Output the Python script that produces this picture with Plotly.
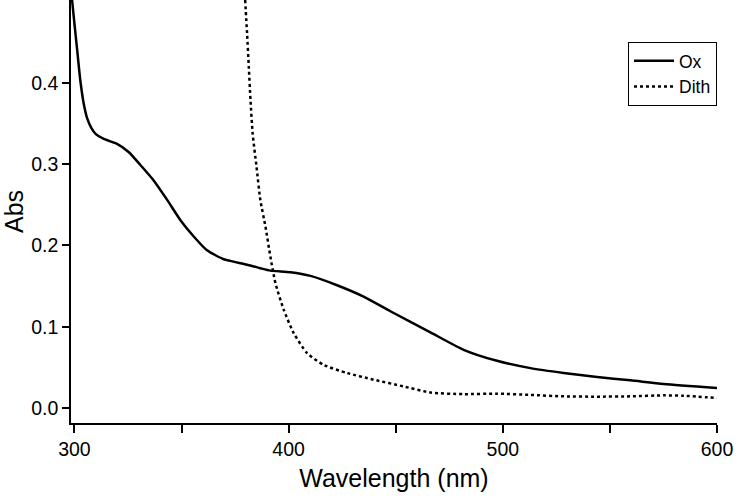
import plotly.graph_objects as go

ox_x = [298.9, 299.7, 301.3, 302.8, 304.3, 306.0, 308.0, 310.0, 313.7, 319.9, 325.3, 330.8,
        337.0, 343.3, 349.5, 355.7, 361.9, 369.7, 372.8, 377.5, 382.5, 386.8, 391.5, 400.8, 410.2,
        422.6, 435.0, 447.5, 466.2, 481.7, 497.3, 512.9, 528.4, 544.0, 559.5, 575.1, 600.0]
ox_y = [0.502, 0.481, 0.440, 0.402, 0.375, 0.356, 0.344, 0.337, 0.331, 0.325, 0.315, 0.299,
        0.280, 0.256, 0.231, 0.211, 0.194, 0.183, 0.181, 0.178, 0.175, 0.172, 0.169, 0.167, 0.1625,
        0.151, 0.137, 0.119, 0.093, 0.0716, 0.058, 0.049, 0.043, 0.038, 0.034, 0.0295, 0.0246]

dith_x = [379.7, 380.6, 381.4, 382.2, 383.2, 385.0, 386.8, 389.2, 391.5, 393.8, 397.7, 402.4, 408.6,
          416.4, 427.3, 439.7, 453.7, 466.2, 481.7, 497.3, 512.9, 528.4, 544.0, 559.5, 575.1, 584.4, 600.0]
dith_y = [0.502, 0.461, 0.420, 0.379, 0.338, 0.297, 0.256, 0.223, 0.186, 0.154, 0.121, 0.092, 0.0676,
          0.053, 0.043, 0.0348, 0.0265, 0.019, 0.017, 0.0176, 0.016, 0.0143, 0.0139, 0.0143, 0.0155, 0.015, 0.0123]

x_tickvals = [300, 350, 400, 450, 500, 550, 600]
x_ticktext = ["300", "", "400", "", "500", "", "600"]
y_tickvals = [0.0, 0.1, 0.2, 0.3, 0.4]
y_ticktext = ["0.0", "0.1", "0.2", "0.3", "0.4"]

FONT = "Liberation Sans, Arial, sans-serif"

fig = go.Figure()
fig.add_trace(go.Scatter(x=ox_x, y=ox_y, mode="lines", name="Ox",
                         line=dict(color="black", width=2.5, shape="spline", smoothing=0.6)))
fig.add_trace(go.Scatter(x=dith_x, y=dith_y, mode="lines", name="Dith",
                         line=dict(color="black", width=2.5, dash="dot", shape="spline", smoothing=0.6)))

fig.update_layout(
    width=738, height=500,
    margin=dict(l=71, r=21, t=0, b=77),
    plot_bgcolor="white", paper_bgcolor="white",
    font=dict(family=FONT, color="black", size=19),
    showlegend=True,
    legend=dict(x=1, xanchor="right", y=0.901, yanchor="top",
                bordercolor="black", borderwidth=1, bgcolor="white",
                font=dict(size=17.5, family=FONT, color="black"),
                tracegroupgap=0, itemwidth=40),
    xaxis=dict(range=[298.4, 600], showgrid=False, zeroline=False,
               showline=True, linecolor="black", linewidth=1.5,
               ticks="outside", ticklen=8, tickwidth=1.5, tickcolor="black",
               tickvals=x_tickvals, ticktext=x_ticktext,
               tickfont=dict(size=19.5),
               title=dict(text="Wavelength (nm)", font=dict(size=25), standoff=10)),
    yaxis=dict(range=[-0.0185, 0.502], showgrid=False, zeroline=False,
               showline=True, linecolor="black", linewidth=1.5,
               ticks="outside", ticklen=7, tickwidth=1.5, tickcolor="black",
               tickvals=y_tickvals, ticktext=y_ticktext,
               tickfont=dict(size=19.5),
               title=dict(text="Abs", font=dict(size=25), standoff=4)),
)

fig.write_html("out.html", config={"displayModeBar": False},
               post_script="document.body.style.margin='0px';")
